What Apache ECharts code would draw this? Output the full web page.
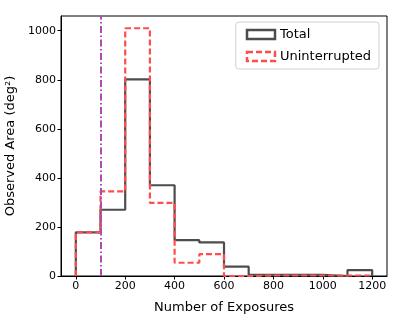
<!DOCTYPE html>
<html>
<head>
<meta charset="utf-8">
<script src="https://cdn.jsdelivr.net/npm/echarts@6/dist/echarts.min.js"></script>
<style>
  html, body { margin: 0; padding: 0; background: #fff; }
  #main { width: 407px; height: 326px; }
</style>
</head>
<body>
<div id="main"></div>
<script>
// bin edges and heights (deg^2)
var binEdges = [0, 100, 200, 300, 400, 500, 600, 700, 800, 900, 1000, 1100, 1200]
var totalArea = [178, 270, 802, 370, 146, 137, 38, 5, 5, 5, 0, 24]
var uninterruptedArea = [178, 345, 1010, 298, 54, 89, 0, 2, 2, 2, 2, 2]
var cutLine = 100
var xTicks = [0, 200, 400, 600, 800, 1000, 1200]
var yTicks = [0, 200, 400, 600, 800, 1000]

// turn bins into a step outline like matplotlib histtype='step'
function stepData (edges, vals) {
  var pts = [[edges[0], 0]]
  for (var i = 0; i < vals.length; i++) {
    pts.push([edges[i], vals[i]])
  }
  pts.push([edges[edges.length - 1], vals[vals.length - 1]])
  pts.push([edges[edges.length - 1], 0])
  return pts
}

var font = 'DejaVu Sans'
var plain = function (v) { return String(v) }
var chart = echarts.init(document.getElementById('main'))
chart.setOption({
  animation: false,
  grid: {
    left: 61, right: 20, top: 16, bottom: 50,
    outerBoundsMode: 'none',
    show: true, borderColor: '#000', borderWidth: 1
  },
  legend: {
    right: 28, top: 22,
    orient: 'vertical',
    itemWidth: 28, itemHeight: 9, itemGap: 9,
    padding: [6, 8, 6, 10],
    borderColor: '#d0d0d0', borderWidth: 1, borderRadius: 3,
    backgroundColor: '#fff',
    textStyle: { fontFamily: font, fontSize: 13, color: '#000' },
    data: [
      { name: 'Total', icon: 'rect', itemStyle: { color: 'transparent', borderColor: '#4d4d4d', borderWidth: 2.5 } },
      { name: 'Uninterrupted', icon: 'rect', itemStyle: { color: 'transparent', borderColor: '#ff4d4d', borderWidth: 2.5, borderType: [6, 3] } }
    ]
  },
  xAxis: {
    type: 'value', min: -60, max: 1260,
    name: 'Number of Exposures', nameLocation: 'middle', nameGap: 25,
    nameTextStyle: { fontFamily: font, fontSize: 13, color: '#000' },
    splitLine: { show: false },
    axisLine: { onZero: false, lineStyle: { color: '#000' } },
    axisTick: { length: 3.5, lineStyle: { color: '#000' }, customValues: xTicks },
    axisLabel: { fontFamily: font, fontSize: 11, color: '#000', margin: 5, customValues: xTicks, formatter: plain }
  },
  yAxis: {
    type: 'value', min: 0, max: 1060,
    name: 'Observed Area (deg²)', nameLocation: 'middle', nameGap: 40,
    nameTextStyle: { fontFamily: font, fontSize: 13, color: '#000' },
    splitLine: { show: false },
    axisLine: { show: true, onZero: false, lineStyle: { color: '#000' } },
    axisTick: { show: true, length: 3.5, lineStyle: { color: '#000' }, customValues: yTicks },
    axisLabel: { fontFamily: font, fontSize: 11, color: '#000', margin: 5, customValues: yTicks, formatter: plain }
  },
  series: [
    {
      name: 'Total', type: 'line', step: 'end', symbol: 'none',
      data: stepData(binEdges, totalArea),
      lineStyle: { color: '#4d4d4d', width: 2.2 },
      itemStyle: { color: '#4d4d4d' }
    },
    {
      name: 'Uninterrupted', type: 'line', step: 'end', symbol: 'none',
      data: stepData(binEdges, uninterruptedArea),
      lineStyle: { color: '#ff4d4d', width: 2.2, type: [6, 3] },
      itemStyle: { color: '#ff4d4d' },
      markLine: {
        silent: true, symbol: 'none', label: { show: false },
        lineStyle: { color: '#ad4cad', width: 2, type: [7, 2.5, 1.5, 2.5] },
        data: [{ xAxis: cutLine }]
      }
    }
  ]
})
</script>
</body>
</html>
